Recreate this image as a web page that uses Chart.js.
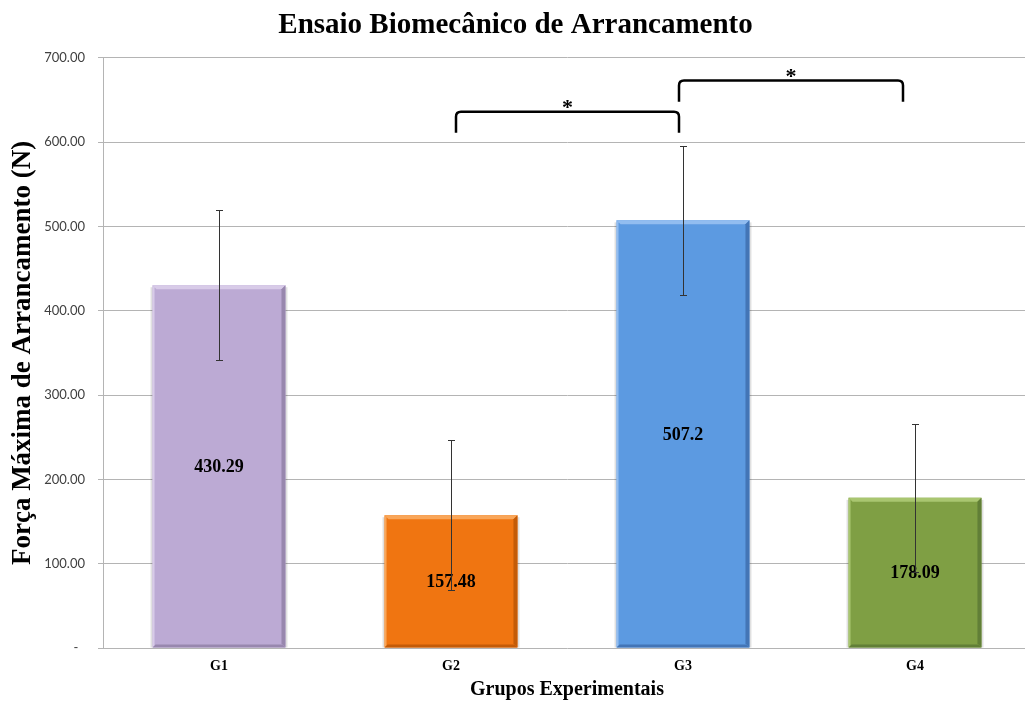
<!DOCTYPE html>
<html>
<head>
<meta charset="utf-8">
<script src="https://cdn.jsdelivr.net/npm/chart.js@4.4.1/dist/chart.umd.min.js"></script>
<style>
  html, body { margin: 0; padding: 0; background: #fff; overflow: hidden; }
  #wrap { width: 1040px; height: 707px; }
</style>
</head>
<body>
<div id="wrap"><canvas id="chart" width="1040" height="707"></canvas></div>
<script>
// values
const groups = ['G1', 'G2', 'G3', 'G4'];
const means = [430.29, 157.48, 507.2, 178.09];
const errors = [88.9, 88.7, 88.3, 87.6];
const barColors = ['#bcaad4', '#f07511', '#5c9ae1', '#7f9f44'];
const lightEdge = ['#d8cbe8', '#f9a659', '#92bdf0', '#a9c670'];
const darkEdge = ['#9887ae', '#c35b08', '#4375b6', '#617f37'];
// significance brackets: [from group, to group, bracket level, leg end]
const brackets = [[1, 2, 636, 611], [2, 3, 673, 648]];

const serif = "'Liberation Serif', 'Times New Roman', serif";

const barExtras = {
    id: 'barExtras',
    afterDatasetsDraw(chart) {
        const ctx = chart.ctx;
        const y = chart.scales.y;
        const x = chart.scales.x;
        const meta = chart.getDatasetMeta(0);
        ctx.save();
        meta.data.forEach(function(bar, i) {
            const l = bar.x - bar.width / 2, r = bar.x + bar.width / 2;
            const t = bar.y, b = bar.base, d = 4;
            // soft shadow at the sides
            ctx.fillStyle = 'rgba(0,0,0,0.12)';
            ctx.fillRect(l - 2, t + 2, 2, b - t - 2);
            ctx.fillRect(r, t + 2, 2, b - t - 2);
            // bevel
            function poly(pts, col) {
                ctx.beginPath();
                ctx.moveTo(pts[0][0], pts[0][1]);
                for (let k = 1; k < pts.length; k++) ctx.lineTo(pts[k][0], pts[k][1]);
                ctx.closePath();
                ctx.fillStyle = col;
                ctx.fill();
            }
            poly([[l, t], [r, t], [r - d, t + d], [l + d, t + d]], lightEdge[i]);
            poly([[l, t], [l + 2, t + 2], [l + 2, b - 2], [l, b]], lightEdge[i]);
            poly([[r, t], [r, b], [r - d, b - d], [r - d, t + d]], darkEdge[i]);
            poly([[l, b], [r, b], [r - 3, b - 3], [l + 3, b - 3]], darkEdge[i]);
        });
        // value labels
        ctx.fillStyle = '#000';
        ctx.font = 'bold 18px ' + serif;
        ctx.textAlign = 'center';
        ctx.textBaseline = 'middle';
        meta.data.forEach(function(bar, i) {
            ctx.fillText(String(means[i]), bar.x, (bar.y + bar.base) / 2 + 1);
        });
        // error bars
        ctx.strokeStyle = '#333';
        ctx.lineWidth = 1;
        meta.data.forEach(function(bar, i) {
            const cx = Math.round(bar.x) + 0.5;
            const hi = Math.round(y.getPixelForValue(means[i] + errors[i])) + 0.5;
            const lo = Math.round(y.getPixelForValue(means[i] - errors[i])) + 0.5;
            ctx.beginPath();
            ctx.moveTo(cx, hi); ctx.lineTo(cx, lo);
            ctx.moveTo(cx - 3.5, hi); ctx.lineTo(cx + 3.5, hi);
            ctx.moveTo(cx - 3.5, lo); ctx.lineTo(cx + 3.5, lo);
            ctx.stroke();
        });
        // significance brackets, ends pulled slightly inside the bar centres
        ctx.strokeStyle = '#000';
        ctx.lineWidth = 2.5;
        ctx.lineJoin = 'round';
        ctx.font = 'bold 22px ' + serif;
        brackets.forEach(function(br, k) {
            const x1 = x.getPixelForValue(br[0]) + (k === 0 ? 5 : -4);
            const x2 = x.getPixelForValue(br[1]) - (k === 0 ? 4 : 12);
            const yt = y.getPixelForValue(br[2]);
            const yl = y.getPixelForValue(br[3]);
            const rad = 5;
            ctx.beginPath();
            ctx.moveTo(x1, yl);
            ctx.lineTo(x1, yt + rad);
            ctx.quadraticCurveTo(x1, yt, x1 + rad, yt);
            ctx.lineTo(x2 - rad, yt);
            ctx.quadraticCurveTo(x2, yt, x2, yt + rad);
            ctx.lineTo(x2, yl);
            ctx.stroke();
            ctx.fillText('*', (x1 + x2) / 2, yt - 3);
        });
        ctx.restore();
    }
};

new Chart(document.getElementById('chart').getContext('2d'), {
    type: 'bar',
    data: {
        labels: groups,
        datasets: [{
            data: means,
            backgroundColor: barColors,
            borderWidth: 0,
            categoryPercentage: 1,
            barPercentage: 0.573
        }]
    },
    options: {
        responsive: false,
        animation: false,
        layout: { padding: { top: 0, right: 9, bottom: 0, left: 0 } },
        plugins: {
            legend: { display: false },
            tooltip: { enabled: false },
            title: {
                display: true,
                text: 'Ensaio Biomecânico de Arrancamento',
                color: '#000',
                font: { family: serif, size: 29, weight: 'bold' },
                padding: { top: 8, bottom: 15 }
            }
        },
        scales: {
            x: {
                grid: { display: false, drawTicks: false },
                border: { display: false },
                ticks: {
                    color: '#000',
                    font: { family: serif, size: 14, weight: 'bold' },
                    padding: 10
                },
                title: {
                    display: true,
                    text: 'Grupos Experimentais',
                    color: '#000',
                    font: { family: serif, size: 20, weight: 'bold' },
                    padding: { top: 0, bottom: 5 }
                },
                afterFit: function(s) { s.height = 59; }
            },
            y: {
                min: 0,
                max: 700,
                grid: { color: '#b4b4b4', tickLength: 5 },
                border: { color: '#b4b4b4' },
                ticks: {
                    stepSize: 100,
                    color: '#404040',
                    font: { family: 'Lato', size: 13 },
                    padding: 13,
                    callback: function(v) { return v === 0 ? '-  ' : v.toFixed(2); }
                },
                title: {
                    display: true,
                    text: 'Força Máxima de Arrancamento (N)',
                    color: '#000',
                    font: { family: serif, size: 27, weight: 'bold' },
                    padding: { top: 7, bottom: 0 }
                },
                afterFit: function(s) { s.width = 103; }
            }
        }
    },
    plugins: [barExtras]
});
</script>
</body>
</html>
